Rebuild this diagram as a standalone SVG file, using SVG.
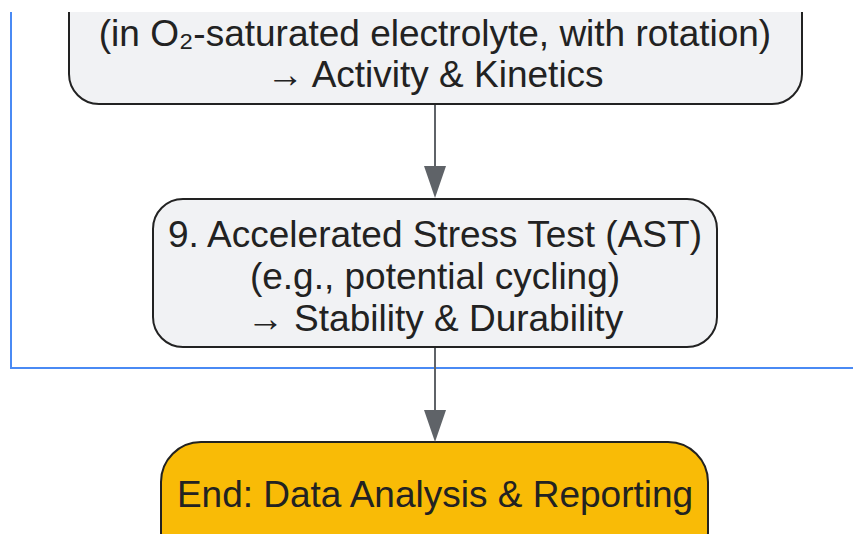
<svg xmlns="http://www.w3.org/2000/svg" width="853" height="534" viewBox="0 0 853 534">
<defs>
<style>
.node rect{fill:#f1f2f4;stroke:#222;stroke-width:2}
.node text,.end text{font-family:"Liberation Sans",Arial,sans-serif;font-size:37px;fill:#222;text-anchor:middle}
.end rect{fill:#f9bb06;stroke:#222;stroke-width:2}
.edge{stroke:#5f6368;stroke-width:2;fill:none}
.arrow{fill:#5f6368}
.cluster{stroke:#4a8af4;stroke-width:2;fill:none}
</style>
</defs>
<rect width="853" height="534" fill="#fff"/>
<path class="cluster" d="M11,12 V368 H853"/>
<g id="node8" class="node">
<rect x="69" y="-40" width="733" height="144" rx="30"/>
<text x="435" y="46">(in O₂-saturated electrolyte, with rotation)</text>
<text x="435" y="87">→ Activity &amp; Kinetics</text>
</g>
<g id="node9" class="node">
<rect x="153" y="199" width="564" height="148" rx="30"/>
<text x="435" y="247">9. Accelerated Stress Test (AST)</text>
<text x="435" y="289">(e.g., potential cycling)</text>
<text x="435" y="331">→ Stability &amp; Durability</text>
</g>
<g id="end" class="end">
<rect x="161" y="442" width="547" height="130" rx="40"/>
<text x="435" y="507">End: Data Analysis &amp; Reporting</text>
</g>
<g id="connectors">
<line class="edge" x1="435" y1="105" x2="435" y2="170"/>
<path class="arrow" d="M424,166 L446,166 L435,198 Z"/>
<line class="edge" x1="435" y1="348" x2="435" y2="414"/>
<path class="arrow" d="M424,410 L446,410 L435,442 Z"/>
</g>
<rect x="0" y="0" width="853" height="12" fill="#fff"/>
</svg>
